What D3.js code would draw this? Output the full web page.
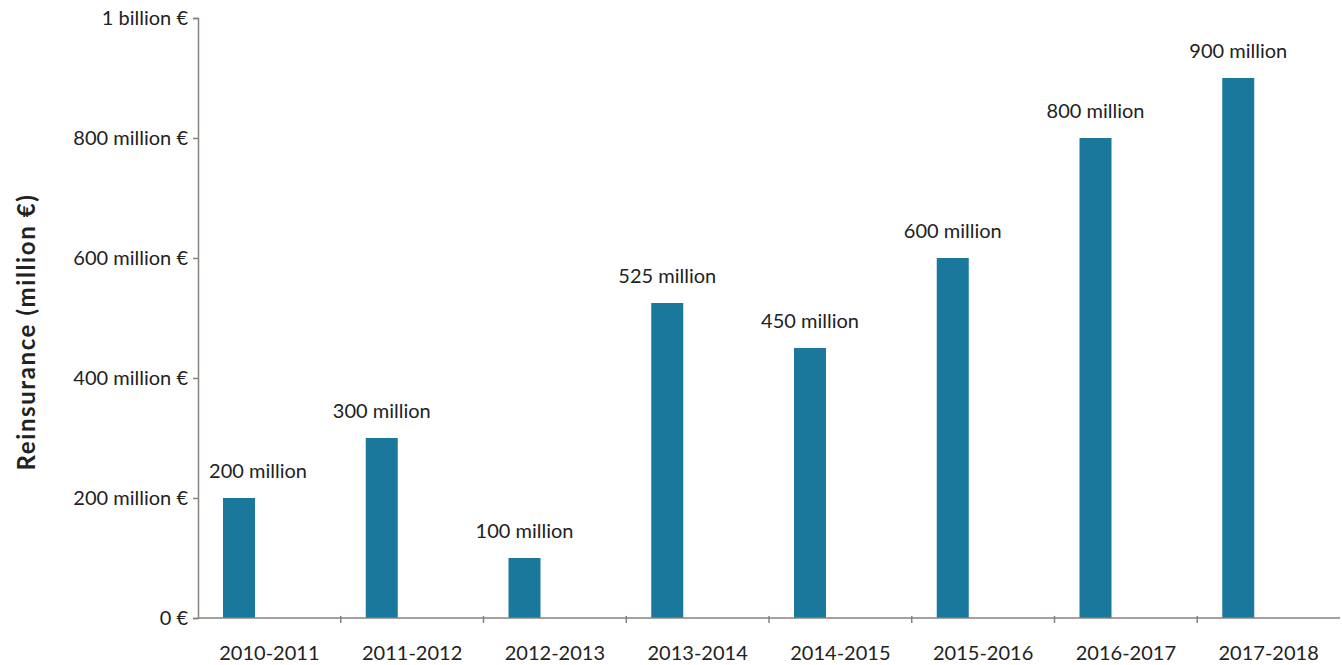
<!DOCTYPE html>
<html>
<head>
<meta charset="utf-8">
<script src="https://cdn.jsdelivr.net/npm/d3@7"></script>
<style>
  html, body { margin: 0; padding: 0; background: #ffffff; }
  svg { display: block; }
  text { font-family: Lato, "Open Sans", sans-serif; fill: #222; }
</style>
</head>
<body>
<svg id="chart" width="1342" height="665"></svg>
<script>
// Reinsurance amounts per period, in million €
const periods = ["2010-2011", "2011-2012", "2012-2013", "2013-2014",
                 "2014-2015", "2015-2016", "2016-2017", "2017-2018"];
const amounts = [200, 300, 100, 525, 450, 600, 800, 900];
const valueLabels = ["200 million", "300 million", "100 million", "525 million",
                     "450 million", "600 million", "800 million", "900 million"];
const yTicks = [0, 200, 400, 600, 800, 1000];
const yTickLabels = ["0 €", "200 million €", "400 million €", "600 million €",
                     "800 million €", "1 billion €"];
const yTitle = "Reinsurance (million €)";

const svg = d3.select("#chart");
const plotLeft = 198, plotRight = 1340, plotTop = 18, plotBottom = 618;
const axisColor = "#8a817c";
const barColor = "#1a789d";

const x = d3.scaleBand().domain(periods).range([plotLeft, plotRight]);
const y = d3.scaleLinear().domain([0, 1000]).range([plotBottom, plotTop]);

const barOffset = 25, barWidth = 32;

// bars
svg.append("g").selectAll("rect")
  .data(periods)
  .join("rect")
  .attr("x", d => x(d) + barOffset)
  .attr("width", barWidth)
  .attr("y", (d, i) => y(amounts[i]))
  .attr("height", (d, i) => plotBottom - y(amounts[i]))
  .attr("fill", barColor);

// value labels above bars (kept clear of the y axis)
svg.append("g").selectAll("text")
  .data(periods)
  .join("text")
  .attr("x", d => Math.max(x(d) + barOffset + barWidth / 2, plotLeft + 60))
  .attr("y", (d, i) => y(amounts[i]) - 20)
  .attr("text-anchor", "middle")
  .attr("font-size", 20)
  .text((d, i) => valueLabels[i]);

// y axis
const yAxis = d3.axisLeft(y)
  .tickValues(yTicks)
  .tickFormat((d, i) => yTickLabels[i])
  .tickSize(5)
  .tickPadding(5);
const gy = svg.append("g").attr("transform", `translate(${plotLeft},0)`).call(yAxis);
gy.select(".domain").attr("stroke", axisColor).attr("stroke-width", 1.5);
gy.selectAll(".tick line").attr("stroke", axisColor).attr("stroke-width", 1.5);
gy.selectAll(".tick text")
  .attr("font-size", 20)
  .attr("font-family", "Lato, sans-serif")
  .attr("fill", "#222");

// x axis with tick marks at band boundaries
const gx = svg.append("g").attr("transform", `translate(0,${plotBottom})`);
gx.append("line")
  .attr("x1", plotLeft).attr("x2", plotRight)
  .attr("stroke", axisColor).attr("stroke-width", 1.5);
gx.selectAll("line.sep")
  .data(periods.slice(1))
  .join("line")
  .attr("class", "sep")
  .attr("x1", d => x(d)).attr("x2", d => x(d))
  .attr("y1", -2).attr("y2", 5)
  .attr("stroke", axisColor).attr("stroke-width", 1.5);
gx.selectAll("text")
  .data(periods)
  .join("text")
  .attr("x", d => x(d) + x.bandwidth() / 2)
  .attr("y", 42)
  .attr("text-anchor", "middle")
  .attr("font-size", 20)
  .text(d => d);

// y axis title
svg.append("text")
  .attr("transform", `translate(35,${(plotTop + plotBottom) / 2 + 14}) rotate(-90)`)
  .attr("text-anchor", "middle")
  .attr("font-size", 24)
  .attr("font-weight", "bold")
  .attr("letter-spacing", 1.6)
  .attr("fill", "#111")
  .text(yTitle);
</script>
</body>
</html>
